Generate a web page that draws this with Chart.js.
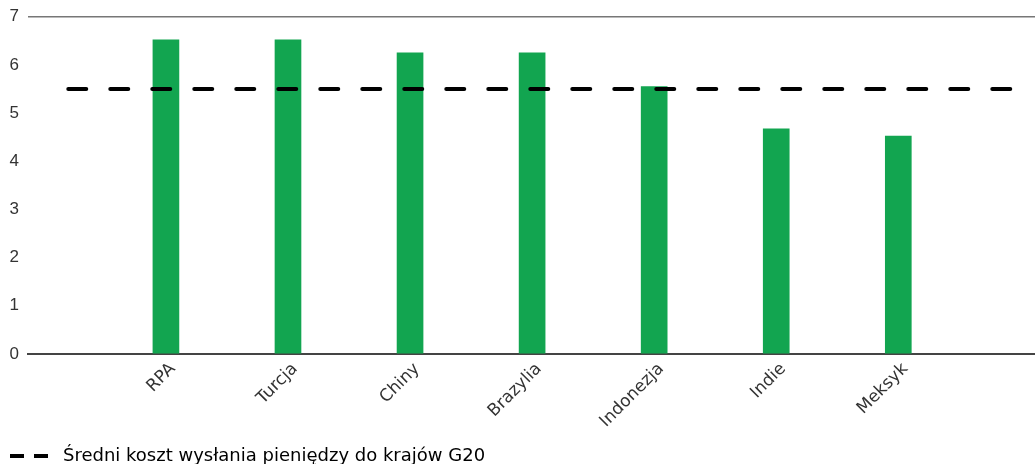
<!DOCTYPE html>
<html>
<head>
<meta charset="utf-8">
<script src="https://cdn.jsdelivr.net/npm/chart.js@4/dist/chart.umd.min.js"></script>
<style>
  html, body { margin: 0; padding: 0; background: #fff; }
  #wrap { width: 1035px; height: 464px; }
</style>
</head>
<body>
<div id="wrap"><canvas id="costChart" width="1035" height="464"></canvas></div>
<script>
// koszt wysłania pieniędzy (%) wg kraju
var categories = ['RPA', 'Turcja', 'Chiny', 'Brazylia', 'Indonezja', 'Indie', 'Meksyk'];
var costValues = [6.52, 6.52, 6.25, 6.25, 5.55, 4.67, 4.52];
var averageCost = 5.50;
var averageLabel = 'Średni koszt wysłania pieniędzy do krajów G20';
var yTickValues = [0, 1, 2, 3, 4, 5, 6, 7];
// zakres osi x i linii średniej w jednostkach kategorii
var xRange = [-1.13, 7.12];
var averageSpan = [-0.8, 6.92];

var barData = [];
for (let i = 0; i < categories.length; i++) {
    barData.push({ x: i, y: costValues[i] });
}
var averageData = averageSpan.map(function (x) { return { x: x, y: averageCost }; });

var ctx = document.getElementById('costChart').getContext('2d');
var costChart = new Chart(ctx, {
    type: 'bar',
    data: {
        datasets: [{
            type: 'line',
            label: averageLabel,
            data: averageData,
            borderColor: '#000',
            borderWidth: 4,
            borderDash: [18, 24],
            borderCapStyle: 'round',
            pointRadius: 0,
            fill: false,
            order: 0
        }, {
            label: 'Koszt',
            data: barData,
            backgroundColor: '#12a550',
            barThickness: 26,
            order: 1
        }]
    },
    options: {
        responsive: false,
        devicePixelRatio: 1,
        animation: false,
        layout: { padding: { top: 7, right: 0, bottom: -11, left: 0 } },
        plugins: {
            tooltip: { enabled: false },
            legend: {
                position: 'bottom',
                align: 'start',
                labels: {
                    usePointStyle: true,
                    pointStyleWidth: 50,
                    padding: 4,
                    color: '#222',
                    font: { family: 'DejaVu Sans', size: 18 },
                    generateLabels: function () {
                        return [{
                            text: averageLabel,
                            pointStyle: 'line',
                            strokeStyle: '#000',
                            fillStyle: '#000',
                            lineWidth: 4,
                            lineDash: [14, 10],
                            lineDashOffset: 18,
                            lineCap: 'butt',
                            hidden: false,
                            datasetIndex: 0
                        }];
                    }
                }
            }
        },
        scales: {
            x: {
                type: 'linear',
                offset: false,
                min: xRange[0],
                max: xRange[1],
                afterBuildTicks: function (axis) {
                    axis.ticks = categories.map(function (c, i) { return { value: i }; });
                },
                afterFit: function (axis) { axis.height = 89; },
                grid: { display: false, offset: false },
                border: { display: true, color: '#444', width: 2 },
                ticks: {
                    autoSkip: false,
                    minRotation: 45,
                    maxRotation: 45,
                    padding: -3,
                    labelOffset: 7,
                    color: '#333',
                    font: { family: 'DejaVu Sans', size: 17 },
                    callback: function (value) { return categories[value]; }
                }
            },
            y: {
                min: 0,
                max: 7,
                afterBuildTicks: function (axis) {
                    axis.ticks = yTickValues.map(function (v) { return { value: v }; });
                },
                afterFit: function (axis) { axis.width = 28; },
                border: { display: false },
                grid: {
                    drawTicks: false,
                    lineWidth: 1.5,
                    color: function (c) { return c.tick && c.tick.value === 7 ? '#777' : 'rgba(0,0,0,0)'; }
                },
                ticks: {
                    padding: 9,
                    color: '#333',
                    font: { family: 'Liberation Sans', size: 17, lineHeight: 0.9 }
                }
            }
        }
    }
});
</script>
</body>
</html>
